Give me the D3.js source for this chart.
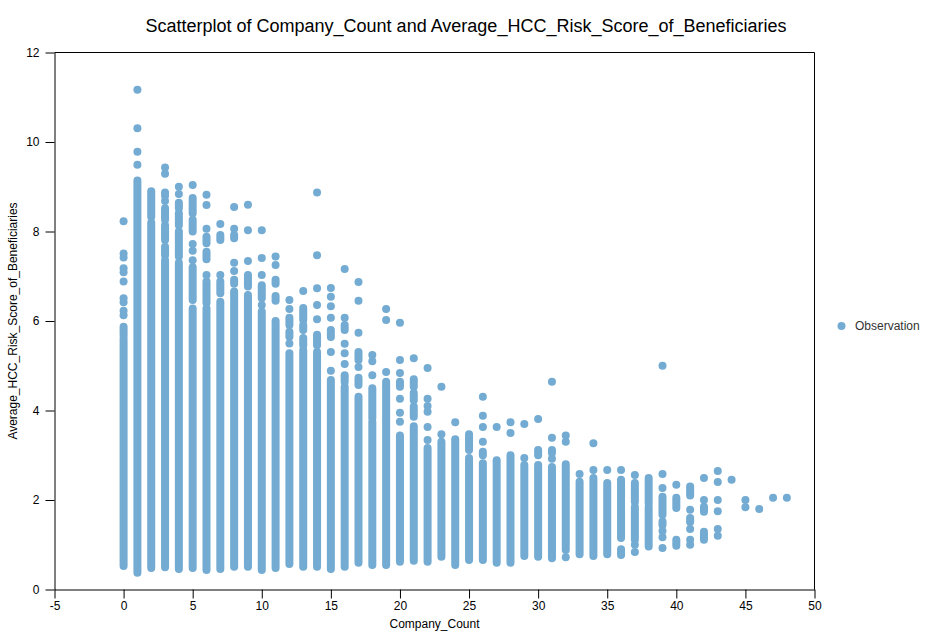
<!DOCTYPE html>
<html><head><meta charset="utf-8">
<script src="https://cdn.jsdelivr.net/npm/d3@7"></script>
<style>html,body{margin:0;background:#fff}svg{display:block}text{font-family:"Liberation Sans",Arial,sans-serif;fill:#000}</style>
</head><body><svg id="c" width="940" height="641"></svg>
<script>
const chartTitle = "Scatterplot of Company_Count and Average_HCC_Risk_Score_of_Beneficiaries";
const xLabel = "Company_Count";
const yLabel = "Average_HCC_Risk_Score_of_Beneficiaries";
const legendLabel = "Observation";
const xTicks = [-5,0,5,10,15,20,25,30,35,40,45,50];
const yTicks = [0,2,4,6,8,10,12];
const isolatedScores = [
 [8.23,7.51,7.42,7.18,7.09,6.88,6.51,6.42,6.23,6.13],
 [11.17,10.31,9.78,9.49],
 [],
 [9.43,9.29,8.87,8.8,8.68],
 [9.0,8.84],
 [9.04,7.72,7.57,7.36],
 [8.82,8.59,8.06,7.03],
 [8.17,7.03],
 [8.55,8.06,7.3,7.12],
 [8.6,8.03,7.34],
 [8.03,7.41,7.03,6.36],
 [7.44,7.25],
 [6.47,6.27,5.5],
 [6.67],
 [8.87,7.47,6.73,6.36,6.04],
 [6.74,6.54,6.33,6.07,5.31,4.89],
 [7.16,6.07,5.49,5.28,5.04],
 [6.87,6.45,5.74,4.97],
 [5.24,5.1,4.79],
 [6.27,6.02,4.86],
 [5.96,5.13,4.84,4.26,3.95,3.75],
 [5.17],
 [4.95,4.26,4.1,3.97,3.63,3.34],
 [4.53,3.47],
 [3.74],
 [],
 [4.31,3.88,3.63,3.3],
 [3.63],
 [3.74,3.5],
 [3.7,2.94],
 [3.81],
 [4.64,3.39,2.92],
 [3.44,3.3,0.72],
 [2.58],
 [3.27,2.67],
 [2.67],
 [2.67],
 [2.56,1.0,0.84],
 [],
 [5.0,2.58,2.27,1.31,1.17,0.93],
 [2.34],
 [1.78,1.35,1.11,1.0],
 [2.49,2.0],
 [2.65,2.4,2.0,1.75,1.35,1.2],
 [2.45],
 [2.0,1.84],
 [1.8],
 [2.05],
 [2.05]
];
// index = Company_Count. Stretches [top, bottom] where observations merge into a solid run.
const denseRuns = [
 [[5.87,5.69],[5.62,0.525]],
 [[9.14,0.375]],
 [[8.9,8.33],[8.2,0.48]],
 [[8.52,8.26],[8.14,7.81],[7.66,7.47],[7.36,0.495]],
 [[8.64,8.52],[8.41,8.14],[8.0,7.44],[7.3,0.46]],
 [[8.75,8.41],[8.26,8.0],[7.2,6.47],[6.28,0.48]],
 [[7.88,7.74],[7.55,7.38],[6.88,6.4],[6.28,0.436]],
 [[7.92,7.81],[6.88,6.62],[6.43,0.46]],
 [[7.92,7.85],[6.92,6.83],[6.66,0.51]],
 [[7.03,6.77],[6.58,6.45],[6.43,0.51]],
 [[6.8,6.51],[6.21,0.436]],
 [[6.92,6.83],[6.56,6.45],[6.0,0.48]],
 [[6.07,5.91],[5.76,5.65],[5.28,0.57]],
 [[6.29,6.02],[5.91,5.8],[5.62,5.46],[5.35,0.51]],
 [[5.69,5.46],[5.31,0.51]],
 [[5.8,5.64],[4.68,0.46]],
 [[5.91,5.8],[4.79,4.64],[4.53,0.51]],
 [[5.31,5.13],[4.73,4.57],[4.31,0.6]],
 [[4.5,3.83],[3.75,0.55]],
 [[4.64,0.55]],
 [[4.64,4.53],[3.44,0.62]],
 [[4.7,4.53],[4.39,4.23],[4.09,3.86],[3.65,0.64]],
 [[3.16,0.62]],
 [[3.3,0.73]],
 [[3.36,0.55]],
 [[3.47,3.12],[2.94,0.66]],
 [[3.08,3.0],[2.82,0.66]],
 [[2.89,0.6]],
 [[3.0,0.6]],
 [[2.78,0.75]],
 [[3.12,3.0],[2.78,0.73]],
 [[3.12,3.05],[2.74,0.7]],
 [[2.8,0.88]],
 [[2.41,0.79]],
 [[2.49,0.75]],
 [[2.38,0.79]],
 [[2.45,1.15],[0.9,0.77]],
 [[2.38,1.96],[1.85,1.11]],
 [[2.49,1.93],[1.85,0.96]],
 [[2.07,1.67],[1.52,1.44]],
 [[2.05,1.82],[1.11,0.98]],
 [[2.3,2.1],[1.6,1.51]],
 [[1.85,1.74],[1.29,1.11]],
 [],[],[],[],[],[]
];

const color = "#73abd2";
const plotLeft = 54.5, plotRight = 814.5, plotTop = 52.5, plotBottom = 589.5;
const x = d3.scaleLinear().domain([-5,50]).range([plotLeft,plotRight]);
const y = d3.scaleLinear().domain([0,12]).range([plotBottom,plotTop]);
const svg = d3.select("#c");

const runs = denseRuns.flatMap((r,c)=>r.map(d=>({c,hi:d[0],lo:d[1]})));
svg.append("g").selectAll("line").data(runs).join("line")
  .attr("x1",d=>x(d.c)).attr("x2",d=>x(d.c))
  .attr("y1",d=>y(d.hi)).attr("y2",d=>y(d.lo))
  .attr("stroke",color).attr("stroke-width",8).attr("stroke-linecap","round");
const dots = isolatedScores.flatMap((r,c)=>r.map(v=>({c,v})));
svg.append("g").selectAll("circle").data(dots).join("circle")
  .attr("cx",d=>x(d.c)).attr("cy",d=>y(d.v)).attr("r",4).attr("fill",color);

const gx = svg.append("g").attr("transform",`translate(0,${plotBottom})`)
  .call(d3.axisBottom(x).tickValues(xTicks).tickFormat(String).tickSize(9).tickSizeOuter(0));
const gy = svg.append("g").attr("transform",`translate(${plotLeft},0)`)
  .call(d3.axisLeft(y).tickValues(yTicks).tickFormat(String).tickSize(9).tickSizeOuter(0));
[gx,gy].forEach(g=>{g.selectAll("path,line").attr("stroke","#000");
  g.selectAll("text").attr("font-size",12).attr("font-family",'"Liberation Sans",Arial,sans-serif').attr("fill","#000");});
gx.selectAll("text").attr("y",12);
gy.selectAll("text").attr("x",-15);
svg.append("path").attr("d",`M${plotLeft},${plotTop}H${plotRight}V${plotBottom}`).attr("fill","none").attr("stroke","#000");

svg.append("text").attr("x",466).attr("y",32).attr("text-anchor","middle").attr("font-size",18).text(chartTitle);
svg.append("text").attr("x",434.5).attr("y",628).attr("text-anchor","middle").attr("font-size",12).text(xLabel);
svg.append("text").attr("transform",`translate(17,321) rotate(-90)`).attr("text-anchor","middle").attr("font-size",12).text(yLabel);
svg.append("circle").attr("cx",841.5).attr("cy",326).attr("r",4).attr("fill",color);
svg.append("text").attr("x",855).attr("y",330).attr("font-size",12).style("fill","#333").text(legendLabel);
</script></body></html>
